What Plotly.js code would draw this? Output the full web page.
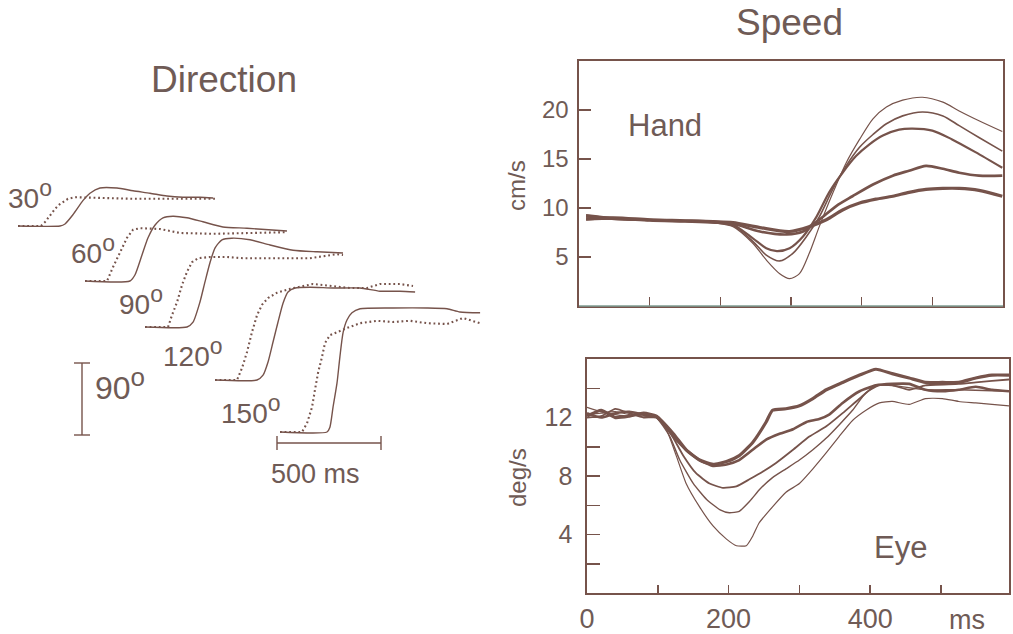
<!DOCTYPE html>
<html><head><meta charset="utf-8">
<script src="https://cdn.plot.ly/plotly-3.0.1.min.js"></script>
<style>html,body{margin:0;padding:0;background:#fff}#chart{width:1013px;height:634px}</style>
</head><body><div id="chart"></div>
<script>
// ---------------- DATA ----------------
// Direction panel: time (ms from trace start) and direction change (deg)
const dirLabels = ['30', '60', '90', '120', '150'];
const dir30SolidT = [0, 202, 226, 264, 313, 346, 394, 476, 553, 635, 716, 793, 875, 938];
const dir30SolidDeg = [0, 0, 2.5, 14, 32, 41, 47.5, 47.5, 44, 41, 37.5, 36, 36, 35];
const dir30DotT = [0, 110, 130, 155, 180, 200, 240, 275, 395, 555, 715, 875, 960];
const dir30DotDeg = [0, 0, 5, 14, 22, 27, 34, 36, 35, 34, 34, 34, 34];
const dir60SolidT = [0, 216, 240, 274, 303, 337, 375, 423, 490, 567, 663, 779, 971];
const dir60SolidDeg = [0, 0, 7.5, 32.5, 54, 70, 79, 81, 79, 74, 67.5, 66, 62.5];
const dir60DotT = [0, 106, 135, 168, 202, 231, 264, 361, 457, 615, 779, 971];
const dir60DotDeg = [0, 0, 17.5, 36, 54, 64, 66, 65, 60, 59, 60, 61];
const dir90SolidT = [0, 202, 231, 264, 288, 313, 337, 370, 418, 505, 601, 712, 827, 952];
const dir90SolidDeg = [0, 0, 6, 31, 56, 81, 99, 109, 111, 109, 102.5, 96, 94, 92.5];
const dir90DotT = [0, 111, 130, 154, 178, 202, 226, 255, 313, 394, 471, 635, 793, 923, 952];
const dir90DotDeg = [0, 0, 15, 31, 52.5, 69, 81, 86, 87.5, 87.5, 86, 86, 86, 91, 90];
const dir120SolidT = [0, 202, 231, 255, 279, 303, 327, 351, 385, 457, 567, 697, 793, 889, 962];
const dir120SolidDeg = [0, 0, 6, 22.5, 47.5, 72.5, 96, 110, 115, 116, 115, 115, 111, 111, 110];
const dir120DotT = [0, 106, 130, 154, 178, 202, 226, 255, 298, 361, 471, 567, 649, 731, 793, 889, 952];
const dir120DotDeg = [0, 0, 15, 35, 60, 81, 94, 102.5, 109, 114, 120, 117.5, 115, 115, 120, 120, 117.5];
const dir150SolidT = [0, 226, 240, 255, 274, 288, 303, 322, 346, 385, 543, 707, 803, 865, 962];
const dir150SolidDeg = [0, 0, 6, 31, 61, 94, 124, 140, 149, 154, 155, 155, 154, 150, 149];
const dir150DotT = [0, 106, 130, 154, 168, 183, 202, 216, 240, 274, 322, 385, 466, 543, 625, 707, 803, 880, 962];
const dir150DotDeg = [0, 0, 11, 31, 52.5, 74, 94, 111, 121, 125, 130, 136, 139, 137.5, 139, 136, 135, 142.5, 136];

// Hand speed (cm/s) vs time (ms)
const handT_A = [10, 50, 100, 150, 190, 218, 246, 265, 284, 298, 312, 326, 340, 359, 378, 397, 416, 435, 458, 486, 515, 538, 566, 599];
const handV_A = [9.0, 8.9, 8.8, 8.7, 8.5, 8.1, 6.4, 4.7, 3.3, 2.8, 3.3, 5.4, 8.1, 11.5, 14.6, 17.0, 19.1, 20.3, 21.0, 21.3, 20.8, 19.9, 18.9, 17.8];
const handT_B = [10, 50, 100, 150, 190, 218, 246, 265, 284, 303, 322, 340, 359, 378, 397, 416, 435, 458, 486, 515, 538, 566, 599];
const handV_B = [9.3, 9.0, 8.8, 8.7, 8.5, 8.2, 6.6, 5.2, 4.6, 5.4, 7.1, 9.1, 11.9, 14.3, 16.2, 17.5, 18.6, 19.4, 19.8, 19.4, 18.4, 17.2, 15.8];
const handT_C = [10, 50, 100, 150, 190, 218, 246, 265, 280, 298, 317, 336, 354, 373, 392, 411, 430, 453, 472, 500, 528, 561, 599];
const handV_C = [8.8, 8.9, 8.7, 8.6, 8.5, 8.3, 6.9, 5.9, 5.6, 5.9, 7.1, 9.1, 11.6, 13.6, 15.3, 16.5, 17.4, 18.0, 18.1, 17.9, 17.0, 15.7, 14.1];
const handT_D = [10, 50, 100, 150, 190, 218, 256, 294, 317, 340, 364, 387, 416, 444, 467, 491, 515, 538, 566, 599];
const handV_D = [9.2, 8.9, 8.8, 8.7, 8.6, 8.4, 7.6, 7.3, 7.6, 8.8, 10.2, 11.2, 12.4, 13.3, 13.8, 14.3, 14.0, 13.6, 13.3, 13.3];
const handT_E = [10, 50, 100, 150, 190, 218, 256, 298, 326, 350, 373, 397, 420, 444, 467, 491, 515, 538, 566, 599];
const handV_E = [8.9, 9.0, 8.8, 8.7, 8.6, 8.5, 8.0, 7.6, 8.1, 8.8, 9.8, 10.5, 10.9, 11.2, 11.6, 11.9, 12.0, 12.0, 11.8, 11.2];

// Eye speed (deg/s) vs time (ms)
const eyeT_A = [0, 20, 40, 60, 80, 98, 112, 126, 140, 159, 178, 197, 211, 225, 234, 243, 262, 281, 300, 319, 338, 356, 375, 394, 413, 431, 455, 478, 502, 525, 549, 572, 596];
const eyeV_A = [12.2, 12.3, 12.4, 12.2, 12.1, 12.0, 11.2, 9.4, 7.5, 5.9, 4.6, 3.7, 3.25, 3.25, 3.9, 4.8, 5.9, 6.9, 7.5, 8.5, 9.6, 10.7, 11.8, 12.5, 13.0, 13.1, 12.9, 13.3, 13.3, 13.1, 13.0, 12.9, 12.8];
const eyeT_B = [0, 20, 40, 60, 80, 98, 117, 131, 150, 169, 188, 201, 215, 230, 244, 262, 281, 300, 319, 338, 356, 375, 394, 413, 431, 478, 525, 596];
const eyeV_B = [12.7, 12.4, 12.2, 12.1, 12.2, 12.0, 10.7, 9.1, 7.5, 6.4, 5.7, 5.5, 5.6, 6.3, 7.1, 7.9, 8.5, 9.1, 9.8, 10.6, 11.5, 12.5, 13.7, 14.2, 14.2, 13.9, 13.9, 13.8];
const eyeT_C = [0, 20, 40, 60, 80, 98, 117, 136, 154, 173, 192, 211, 230, 248, 267, 291, 314, 338, 361, 385, 408, 431, 455, 478, 525, 549, 572, 596];
const eyeV_C = [12.0, 12.1, 12.6, 12.3, 12.0, 12.0, 11.0, 9.4, 8.2, 7.5, 7.2, 7.3, 7.8, 8.3, 8.9, 9.8, 10.7, 11.4, 12.3, 13.3, 14.2, 14.2, 13.9, 14.2, 14.3, 14.4, 14.5, 14.6];
const eyeT_D = [0, 20, 40, 60, 80, 98, 122, 140, 159, 178, 197, 215, 234, 253, 272, 291, 310, 328, 342, 361, 385, 408, 431, 455, 478, 502, 525, 549, 572, 596];
const eyeV_D = [12.3, 12.0, 12.3, 12.4, 12.2, 12.1, 10.7, 9.8, 9.1, 8.7, 8.8, 9.1, 9.8, 10.5, 10.9, 11.2, 11.7, 11.9, 12.2, 13.0, 13.8, 14.2, 14.3, 14.3, 13.9, 13.8, 13.9, 14.1, 13.9, 13.8];
const eyeT_E = [0, 20, 40, 60, 80, 98, 122, 140, 159, 178, 197, 215, 234, 253, 262, 281, 300, 319, 338, 361, 385, 408, 431, 455, 478, 502, 525, 549, 572, 596];
const eyeV_E = [12.1, 12.5, 12.0, 12.1, 12.3, 12.1, 10.9, 9.8, 9.1, 8.8, 9.0, 9.4, 10.3, 11.7, 12.5, 12.6, 12.8, 13.3, 13.9, 14.4, 14.9, 15.3, 15.0, 14.7, 14.4, 14.4, 14.4, 14.7, 14.9, 14.9];

// Tick labels
const handYTicks = [5, 10, 15, 20];
const eyeYTicks = [2, 4, 6, 8, 10, 12, 14];
const eyeYTickText = ['', '4', '', '8', '', '12', ''];
const timeTicks = [0, 100, 200, 300, 400, 500];
const timeTickText = ['0', '', '200', '', '400', ''];

// ---------------- LAYOUT / STYLE ----------------
const W = 1013, H = 634;
const LINE = '#76534b', TEXT = '#6f5b56';
const FONT = '"Liberation Sans", Arial, Helvetica, sans-serif';
const fx = px => px / W, fy = py => 1 - py / H;

// Direction panel: pixel scale of the stacked traces
const PX_PER_MS = 0.208, PX_PER_DEG = 0.8;
const dirOriginPx = [[18, 226], [85, 281], [145, 327], [215, 380], [280, 432]];
const dirLabelPx = [[6, 195], [69, 249], [117, 301], [161, 352], [219, 409]];
const dirSolid = [[dir30SolidT, dir30SolidDeg], [dir60SolidT, dir60SolidDeg], [dir90SolidT, dir90SolidDeg], [dir120SolidT, dir120SolidDeg], [dir150SolidT, dir150SolidDeg]];
const dirDot = [[dir30DotT, dir30DotDeg], [dir60DotT, dir60DotDeg], [dir90DotT, dir90DotDeg], [dir120DotT, dir120DotDeg], [dir150DotT, dir150DotDeg]];

const traces = [];
const toX3 = (ox, t) => ox / PX_PER_MS + t;
const toY3 = (oy, d) => (H - oy) / PX_PER_DEG + d;
dirSolid.forEach((s, i) => {
  const [ox, oy] = dirOriginPx[i];
  const dd = dirDot[i];
  traces.push({x: dd[0].map(t => toX3(ox, t)), y: dd[1].map(d => toY3(oy, d)), xaxis: 'x3', yaxis: 'y3',
    mode: 'lines', line: {color: LINE, width: 2.1, dash: '1.8px,2.8px'}, hoverinfo: 'skip'});
  traces.push({x: s[0].map(t => toX3(ox, t)), y: s[1].map(d => toY3(oy, d)), xaxis: 'x3', yaxis: 'y3',
    mode: 'lines', line: {color: LINE, width: 1.4, shape: 'spline', smoothing: 0.6}, hoverinfo: 'skip'});
});
// scale bars (500 ms, 90 deg)
const SCALE_MS = 500, SCALE_DEG = 90;
const msBarX0 = 277 / PX_PER_MS, msBarY = (H - 443) / PX_PER_DEG, tickHalfDeg = 7 / PX_PER_DEG;
traces.push({x: [msBarX0, msBarX0, null, msBarX0, msBarX0 + SCALE_MS, null, msBarX0 + SCALE_MS, msBarX0 + SCALE_MS],
  y: [msBarY - tickHalfDeg, msBarY + tickHalfDeg, null, msBarY, msBarY, null, msBarY - tickHalfDeg, msBarY + tickHalfDeg],
  xaxis: 'x3', yaxis: 'y3', mode: 'lines', line: {color: LINE, width: 1.4}, hoverinfo: 'skip', connectgaps: false});
const degBarX = 82 / PX_PER_MS, degBarY0 = (H - 435) / PX_PER_DEG, tickHalfMs = 8 / PX_PER_MS;
traces.push({x: [degBarX - tickHalfMs, degBarX + tickHalfMs, null, degBarX, degBarX, null, degBarX - tickHalfMs, degBarX + tickHalfMs],
  y: [degBarY0, degBarY0, null, degBarY0, degBarY0 + SCALE_DEG, null, degBarY0 + SCALE_DEG, degBarY0 + SCALE_DEG],
  xaxis: 'x3', yaxis: 'y3', mode: 'lines', line: {color: LINE, width: 1.4}, hoverinfo: 'skip', connectgaps: false});

// speed curves
const handSeries = [[handT_E, handV_E, 3.2], [handT_D, handV_D, 2.7], [handT_C, handV_C, 2.2], [handT_B, handV_B, 1.6], [handT_A, handV_A, 1.2]];
handSeries.forEach(([t, v, w]) => traces.push({x: t, y: v, xaxis: 'x', yaxis: 'y', mode: 'lines',
  line: {color: LINE, width: w, shape: 'spline', smoothing: 0.8}, hoverinfo: 'skip'}));
const eyeSeries = [[eyeT_E, eyeV_E, 3.2], [eyeT_D, eyeV_D, 2.6], [eyeT_C, eyeV_C, 1.8], [eyeT_B, eyeV_B, 1.4], [eyeT_A, eyeV_A, 1.2]];
eyeSeries.forEach(([t, v, w]) => traces.push({x: t, y: v, xaxis: 'x2', yaxis: 'y2', mode: 'lines',
  line: {color: LINE, width: w, shape: 'spline', smoothing: 0.5}, hoverinfo: 'skip'}));

const axBase = {showline: true, linecolor: LINE, linewidth: 1.6, mirror: true, ticks: 'inside', tickcolor: LINE, tickwidth: 1.5,
  showgrid: false, zeroline: false, fixedrange: true, tickfont: {family: FONT, color: TEXT}};

const ann = (text, px, py, size, extra) => Object.assign({text: text, x: fx(px), y: fy(py), xref: 'paper', yref: 'paper',
  xanchor: 'center', yanchor: 'middle', showarrow: false, font: {family: FONT, size: size, color: TEXT}}, extra || {});
const deg = (num, oSize) => num + '<sup><span style="font-size:' + oSize + 'px">o</span></sup>';

const annotations = [
  ann('Direction', 224, 79, 37),
  ann('Speed', 789, 22, 37),
  ann('Hand', 665, 125, 31),
  ann('Eye', 900, 547, 31),
  ann('cm/s', 517, 186, 24, {textangle: -90}),
  ann('deg/s', 517, 478, 24, {textangle: -90}),
  ann('ms', 967, 620, 27),
  ann('500 ms', 315, 474, 27),
  ann(deg('90', 26), 93, 384, 32, {xanchor: 'left'})
];
dirLabels.forEach((lab, i) => annotations.push(ann(deg(lab, 23), dirLabelPx[i][0], dirLabelPx[i][1], 28, {xanchor: 'left'})));

const layout = {
  width: W, height: H, margin: {l: 0, r: 0, t: 0, b: 0}, paper_bgcolor: '#ffffff', plot_bgcolor: 'rgba(0,0,0,0)',
  showlegend: false, font: {family: FONT, color: TEXT},
  xaxis: Object.assign({}, axBase, {domain: [fx(579), fx(1003)], range: [0, 600], anchor: 'y', tickvals: [100, 200, 300, 400, 500],
    showticklabels: false, ticklen: 9}),
  yaxis: Object.assign({}, axBase, {domain: [fy(306), fy(61)], range: [0, 25], anchor: 'x', tickvals: handYTicks, ticklen: 12,
    tickfont: {family: FONT, color: TEXT, size: 24}, ticklabelstandoff: 4}),
  xaxis2: Object.assign({}, axBase, {domain: [fx(587), fx(1009)], range: [0, 596], anchor: 'y2', tickvals: timeTicks,
    ticktext: timeTickText, ticklen: 8, tickfont: {family: FONT, color: TEXT, size: 27}, ticklabelstandoff: 1}),
  yaxis2: Object.assign({}, axBase, {domain: [fy(593.3), fy(359)], range: [0, 16], anchor: 'x2', tickvals: eyeYTicks,
    ticktext: eyeYTickText, ticklen: 13, tickfont: {family: FONT, color: TEXT, size: 25}, ticklabelstandoff: 8}),
  xaxis3: {domain: [0, fx(500)], range: [0, 500 / PX_PER_MS], anchor: 'y3', visible: false, fixedrange: true},
  yaxis3: {domain: [0, 1], range: [0, H / PX_PER_DEG], anchor: 'x3', visible: false, fixedrange: true},
  shapes: [{type: 'line', xref: 'paper', yref: 'paper', x0: fx(579), x1: fx(1003), y0: fy(306), y1: fy(306),
    line: {color: '#7f9c92', width: 1.6}}],
  annotations: annotations
};

Plotly.newPlot('chart', traces, layout, {staticPlot: true, displayModeBar: false});
</script>
</body></html>
